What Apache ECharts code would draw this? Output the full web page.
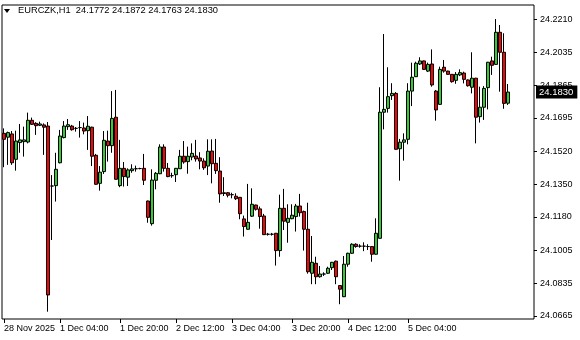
<!DOCTYPE html>
<html>
<head>
<meta charset="utf-8">
<script src="https://cdn.jsdelivr.net/npm/echarts@6/dist/echarts.min.js"></script>
<style>
html,body{margin:0;padding:0;background:#fff;}
#chart{width:580px;height:340px;}
</style>
</head>
<body>
<div id="chart"></div>
<script>
// Candles: [open, close, low, high]
const candles = [
[24.1615,24.1584,24.1439,24.1641],
[24.1595,24.1619,24.1451,24.1624],
[24.1612,24.1462,24.1451,24.1627],
[24.1480,24.1575,24.1421,24.1629],
[24.1567,24.1581,24.1514,24.1664],
[24.1572,24.1581,24.1494,24.1650],
[24.1570,24.1683,24.1563,24.1723],
[24.1683,24.1662,24.1659,24.1697],
[24.1667,24.1655,24.1607,24.1673],
[24.1657,24.1664,24.1653,24.1676],
[24.1659,24.1647,24.1503,24.1667],
[24.1653,24.0774,24.0687,24.1674],
[24.1341,24.1341,24.1060,24.1398],
[24.1343,24.1428,24.1260,24.1514],
[24.1462,24.1601,24.1459,24.1633],
[24.1593,24.1653,24.1589,24.1679],
[24.1650,24.1660,24.1633,24.1690],
[24.1653,24.1634,24.1629,24.1659],
[24.1641,24.1641,24.1624,24.1648],
[24.1645,24.1645,24.1593,24.1679],
[24.1643,24.1627,24.1610,24.1671],
[24.1629,24.1652,24.1529,24.1705],
[24.1647,24.1496,24.1445,24.1650],
[24.1501,24.1350,24.1348,24.1508],
[24.1355,24.1413,24.1317,24.1445],
[24.1416,24.1579,24.1404,24.1627],
[24.1575,24.1551,24.1468,24.1629],
[24.1551,24.1693,24.1514,24.1835],
[24.1699,24.1376,24.1374,24.1841],
[24.1343,24.1433,24.1335,24.1581],
[24.1433,24.1390,24.1338,24.1466],
[24.1387,24.1425,24.1341,24.1433],
[24.1421,24.1430,24.1410,24.1454],
[24.1431,24.1431,24.1416,24.1447],
[24.1432,24.1432,24.1428,24.1436],
[24.1433,24.1371,24.1346,24.1508],
[24.1263,24.1178,24.1150,24.1265],
[24.1145,24.1372,24.1135,24.1428],
[24.1371,24.1407,24.1324,24.1414],
[24.1405,24.1544,24.1403,24.1558],
[24.1544,24.1433,24.1416,24.1558],
[24.1433,24.1390,24.1387,24.1461],
[24.1395,24.1395,24.1384,24.1410],
[24.1400,24.1433,24.1362,24.1435],
[24.1431,24.1496,24.1430,24.1529],
[24.1496,24.1466,24.1457,24.1575],
[24.1468,24.1496,24.1405,24.1546],
[24.1492,24.1511,24.1475,24.1563],
[24.1497,24.1482,24.1468,24.1581],
[24.1487,24.1471,24.1428,24.1517],
[24.1471,24.1436,24.1425,24.1485],
[24.1445,24.1522,24.1398,24.1584],
[24.1523,24.1457,24.1355,24.1584],
[24.1459,24.1421,24.1404,24.1586],
[24.1419,24.1300,24.1254,24.1491],
[24.1306,24.1302,24.1289,24.1387],
[24.1306,24.1293,24.1282,24.1310],
[24.1296,24.1296,24.1277,24.1306],
[24.1288,24.1275,24.1268,24.1303],
[24.1282,24.1197,24.1168,24.1284],
[24.1170,24.1130,24.1078,24.1187],
[24.1116,24.1152,24.1114,24.1352],
[24.1184,24.1246,24.1180,24.1329],
[24.1242,24.1220,24.1213,24.1244],
[24.1222,24.1182,24.1119,24.1234],
[24.1185,24.1088,24.1086,24.1196],
[24.1090,24.1090,24.1083,24.1097],
[24.1090,24.1090,24.1083,24.1097],
[24.1095,24.1005,24.0927,24.1097],
[24.1005,24.1225,24.0973,24.1296],
[24.1225,24.1158,24.1112,24.1326],
[24.1152,24.1173,24.1046,24.1246],
[24.1171,24.1189,24.1168,24.1246],
[24.1182,24.1237,24.1104,24.1248],
[24.1237,24.1202,24.1182,24.1300],
[24.1208,24.1116,24.1005,24.1213],
[24.1116,24.0895,24.0885,24.1254],
[24.0887,24.0944,24.0830,24.1081],
[24.0939,24.0869,24.0830,24.0973],
[24.0869,24.0883,24.0864,24.0925],
[24.0883,24.0883,24.0873,24.0892],
[24.0887,24.0913,24.0883,24.0921],
[24.0916,24.0944,24.0904,24.0946],
[24.0950,24.0869,24.0830,24.0953],
[24.0823,24.0804,24.0726,24.0825],
[24.0765,24.0934,24.0763,24.0977],
[24.0934,24.0991,24.0921,24.0994],
[24.0991,24.1038,24.0988,24.1043],
[24.1038,24.1026,24.1020,24.1043],
[24.1028,24.1028,24.1020,24.1038],
[24.1028,24.1028,24.1002,24.1048],
[24.1026,24.1026,24.1008,24.1038],
[24.1026,24.0986,24.0947,24.1029],
[24.0986,24.1095,24.0984,24.1173],
[24.1069,24.1725,24.1067,24.1855],
[24.1725,24.1740,24.1636,24.2132],
[24.1745,24.1806,24.1723,24.1959],
[24.1811,24.1823,24.1789,24.1876],
[24.1823,24.1532,24.1530,24.1830],
[24.1535,24.1569,24.1369,24.1586],
[24.1569,24.1581,24.1473,24.1615],
[24.1584,24.1835,24.1558,24.1876],
[24.1835,24.1907,24.1757,24.1983],
[24.1910,24.1980,24.1908,24.1988],
[24.1976,24.1992,24.1971,24.2011],
[24.1992,24.1948,24.1945,24.1994],
[24.1939,24.1974,24.1934,24.1983],
[24.1976,24.1867,24.1858,24.2052],
[24.1835,24.1737,24.1681,24.1841],
[24.1766,24.1948,24.1763,24.1962],
[24.1959,24.1939,24.1931,24.1997],
[24.1939,24.1922,24.1920,24.1941],
[24.1922,24.1884,24.1879,24.1924],
[24.1891,24.1922,24.1873,24.1934],
[24.1919,24.1931,24.1913,24.1948],
[24.1929,24.1896,24.1875,24.1936],
[24.1893,24.1863,24.1858,24.1896],
[24.1855,24.1902,24.1823,24.2037],
[24.1902,24.1699,24.1563,24.1904],
[24.1702,24.1751,24.1671,24.1858],
[24.1751,24.1849,24.1685,24.1861],
[24.1853,24.1985,24.1740,24.1987],
[24.1992,24.1969,24.1919,24.2014],
[24.1974,24.2141,24.1972,24.2210],
[24.2141,24.2037,24.1832,24.2179],
[24.2037,24.1771,24.1743,24.2136],
[24.1772,24.1830,24.1763,24.1872]
];

const symbol = 'EURCZK,H1';
const lastBar = candles[candles.length - 1];
const bidPrice = 24.1830;

// bar slots (including empty space at the right edge)
const slotCount = 133;
const categories = Array.from({length: slotCount}, (_, i) => 'bar' + i);

// time axis labels and the bar slots they sit on
const timeLabels = ['28 Nov 2025','1 Dec 04:00','1 Dec 20:00','2 Dec 12:00','3 Dec 04:00','3 Dec 20:00','4 Dec 12:00','5 Dec 04:00'];
const timeLabelSlots = [0, 14, 29, 43, 57, 72, 86, 101];

// price axis ticks
const priceTicks = [24.0665, 24.0835, 24.1005, 24.1180, 24.1350, 24.1520, 24.1695, 24.1865, 24.2035, 24.2210];
const priceMin = 24.0649, priceMax = 24.2283;

const chart = echarts.init(document.getElementById('chart'), null, {renderer: 'canvas'});
const FONT = 'Liberation Sans';

const fmt = v => v.toFixed(4);
// header shows O H L C of the last bar
const header = symbol + '  ' + [lastBar[0], lastBar[3], lastBar[2], lastBar[1]].map(fmt).join(' ');

chart.setOption({
  animation: false,
  backgroundColor: '#ffffff',
  grid: {left: 2, right: 46, top: 5, bottom: 21, show: true, borderColor: '#000', borderWidth: 1, backgroundColor: 'transparent'},
  xAxis: {
    type: 'category',
    data: categories,
    boundaryGap: true,
    axisLine: {show: false},
    axisTick: {show: true, alignWithLabel: true, length: 4, lineStyle: {color: '#000'},
      interval: (i) => timeLabelSlots.indexOf(i) >= 0},
    axisLabel: {show: true, color: '#000', fontFamily: FONT, fontSize: 9, align: 'left', margin: 5,
      interval: (i) => timeLabelSlots.indexOf(i) >= 0,
      formatter: (v, i) => { const k = timeLabelSlots.indexOf(i); return k >= 0 ? timeLabels[k] : ''; }},
    splitLine: {show: false}
  },
  yAxis: {
    type: 'value',
    position: 'right',
    min: priceMin,
    max: priceMax,
    scale: true,
    axisLine: {show: false},
    axisTick: {show: true, length: 3, customValues: priceTicks, lineStyle: {color: '#000'}},
    axisLabel: {show: true, customValues: priceTicks, color: '#000', fontFamily: FONT, fontSize: 9, margin: 6,
      formatter: v => fmt(v)},
    splitLine: {show: false},
    axisPointer: {
      show: true, type: 'line', value: bidPrice, status: 'show', snap: false, triggerTooltip: false,
      lineStyle: {color: 'rgba(0,0,0,0)', width: 0},
      label: {show: true, precision: 4, margin: 2, color: '#ffffff', backgroundColor: '#000000',
        padding: [2, 4, 1, 3], fontFamily: FONT, fontSize: 9.5, borderRadius: 0, shadowBlur: 0},
      handle: {show: false}
    }
  },
  graphic: [
    {type: 'polygon', shape: {points: [[4, 9], [10, 9], [7, 13]]}, style: {fill: '#000'}},
    {type: 'text', left: 18, top: 6, style: {text: header, fill: '#000', font: '9.3px "Liberation Sans"'}}
  ],
  series: [{
    type: 'candlestick',
    data: candles,
    barWidth: 3,
    itemStyle: {color: '#32CD32', color0: '#FF0000', borderColor: '#000000', borderColor0: '#000000', borderWidth: 1}
  }]
});
</script>
</body>
</html>
